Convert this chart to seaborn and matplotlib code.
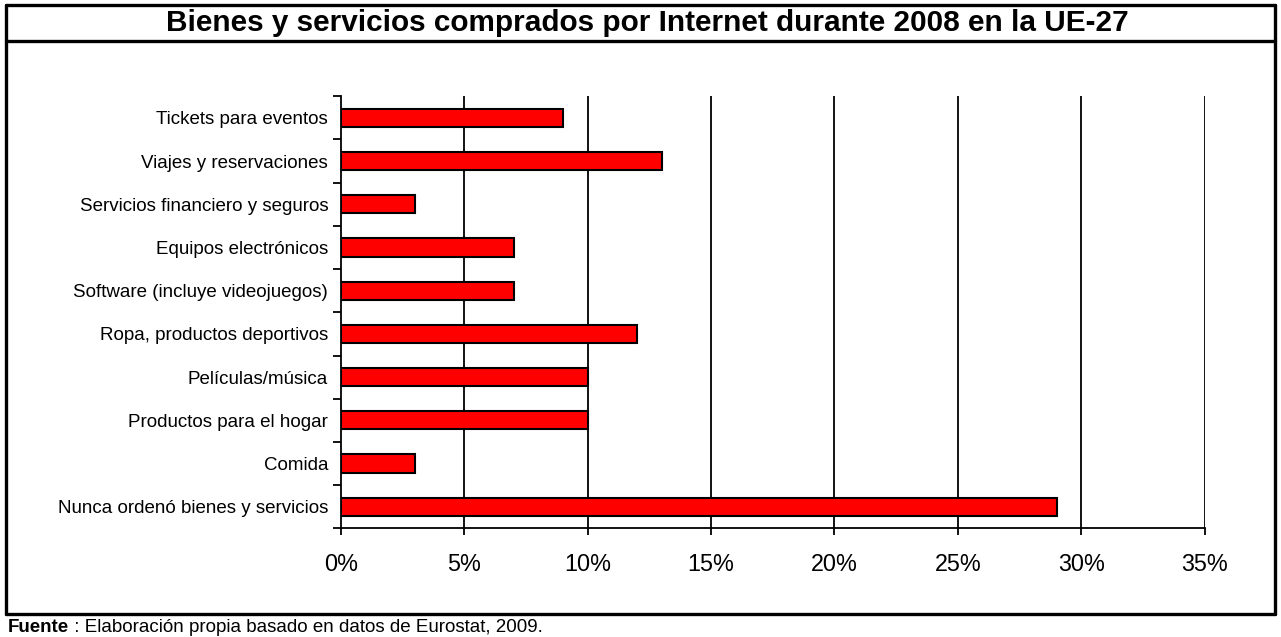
import numpy as np
import pandas as pd
import seaborn as sns
import matplotlib.pyplot as plt
from matplotlib.lines import Line2D
from matplotlib.ticker import FixedLocator, PercentFormatter

# datos
categorias = ["Tickets para eventos", "Viajes y reservaciones", "Servicios financiero y seguros",
              "Equipos electrónicos", "Software (incluye videojuegos)", "Ropa, productos deportivos",
              "Películas/música", "Productos para el hogar", "Comida", "Nunca ordenó bienes y servicios"]
porcentajes = [9, 13, 3, 7, 7, 12, 10, 10, 3, 29]
xticks = [0, 5, 10, 15, 20, 25, 30, 35]

df = pd.DataFrame({"Categoria": categorias, "Porcentaje": porcentajes})

sns.set_style("white")
plt.rcParams["font.family"] = ["Liberation Sans", "DejaVu Sans"]
plt.rcParams["text.color"] = "black"
plt.rcParams["xtick.color"] = "black"
plt.rcParams["ytick.color"] = "black"

fig = plt.figure(figsize=(12.81, 6.37), dpi=100)
ax = fig.add_axes([0.266, 0.1705, 0.6745, 0.6785])

sns.barplot(data=df, x="Porcentaje", y="Categoria", orient="h", color="#ff0000",
            saturation=1, width=0.42, edgecolor="black", linewidth=1.5, ax=ax)

ax.set_xlim(0, 35)
ax.set_ylim(len(categorias) - 0.5, -0.5)
ax.set_xticks(xticks)
ax.xaxis.set_major_formatter(PercentFormatter(decimals=0))
ax.set_xlabel("")
ax.set_ylabel("")
for x in xticks[1:]:
    ax.axvline(x, color="black", lw=1.3, zorder=0)

ax.yaxis.set_minor_locator(FixedLocator(np.arange(-0.5, len(categorias), 1)))
ax.tick_params(axis="y", which="major", length=0, labelsize=13.5, pad=9, labelcolor="black")
ax.tick_params(axis="y", which="minor", length=6, width=1.3, color="black", direction="out", left=True)
ax.tick_params(axis="x", length=5, width=1.3, color="black", direction="out", bottom=True,
               labelsize=16.8, pad=13, labelcolor="black")

for s in ["top", "right"]:
    ax.spines[s].set_visible(False)
for s in ["left", "bottom"]:
    ax.spines[s].set_color("black")
    ax.spines[s].set_linewidth(1.3)

# marcos
W, H = 1281, 637
def linea(x0, y0, x1, y1):
    fig.add_artist(Line2D([x0 / W, x1 / W], [1 - y0 / H, 1 - y1 / H], color="black", lw=2.4,
                          transform=fig.transFigure))
linea(6, 5, 1275, 5)
linea(6, 41, 1275, 41)
linea(6, 614, 1275, 614)
linea(6, 5, 6, 614)
linea(1275, 5, 1275, 614)

fig.text(647 / W, 1 - 23 / H, "Bienes y servicios comprados por Internet durante 2008 en la UE-27",
         ha="center", va="center", fontsize=21.4, fontweight="bold")

t1 = fig.text(8 / W, 1 - 632 / H, "Fuente", ha="left", va="baseline", fontsize=13.5, fontweight="bold")
fig.canvas.draw()
bb = t1.get_window_extent()
fig.text(bb.x1 / W, 1 - 632 / H, " : Elaboración propia basado en datos de Eurostat, 2009.",
         ha="left", va="baseline", fontsize=13.5)

fig.savefig("out.png", dpi=100)
